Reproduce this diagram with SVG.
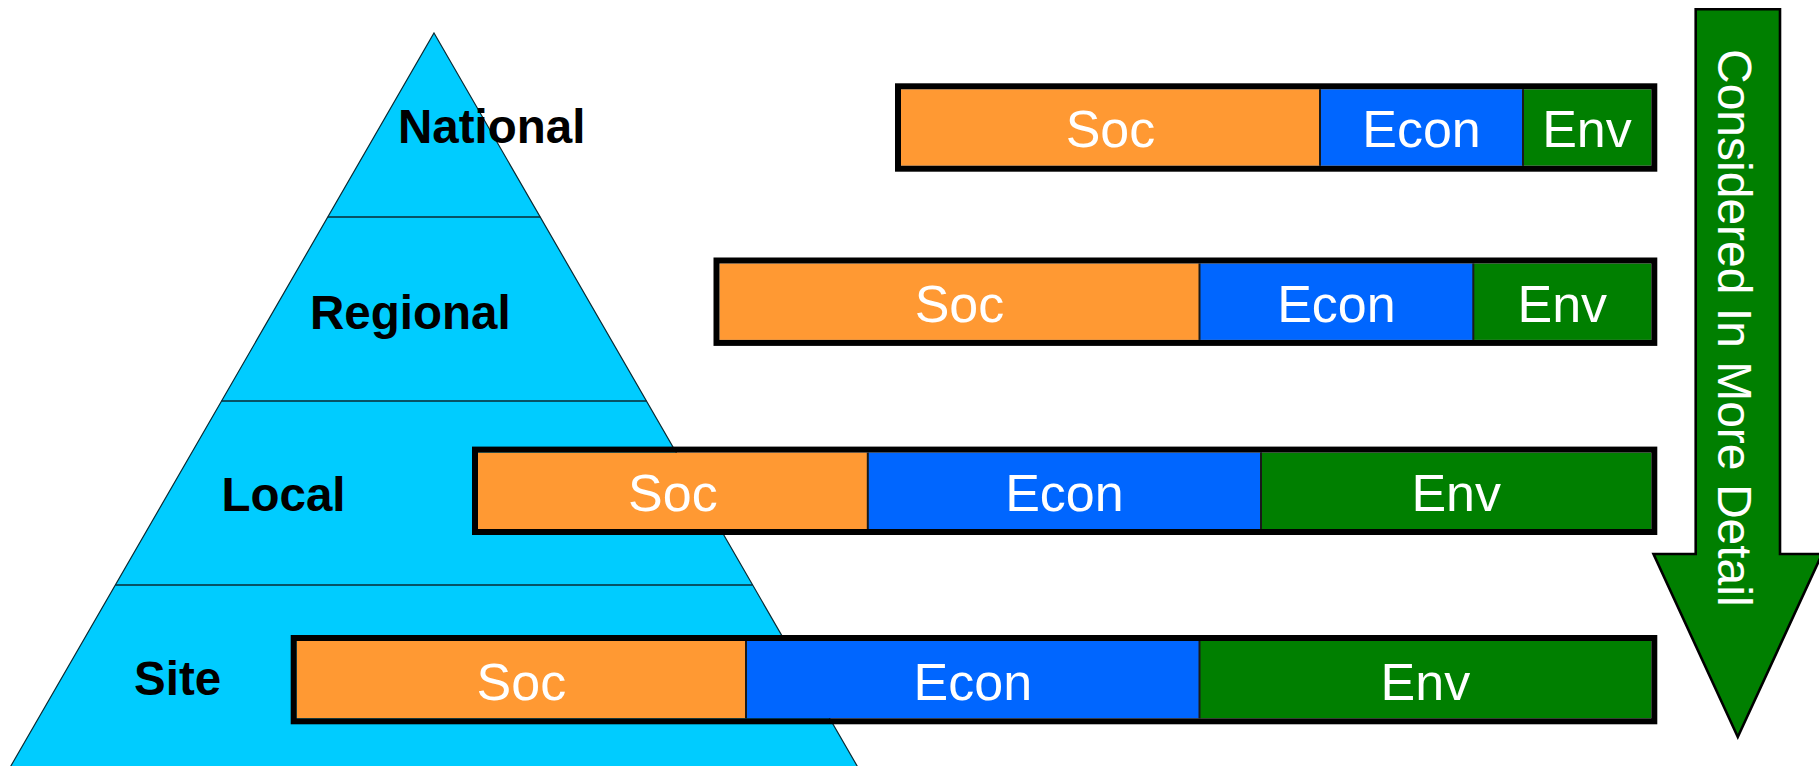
<svg xmlns="http://www.w3.org/2000/svg" width="1819" height="766" viewBox="0 0 1819 766">
<style>
.lvl{font-family:"Liberation Sans",Arial,sans-serif;font-weight:bold;font-size:47.5px;fill:#000}
.bt{font-family:"Liberation Sans",Arial,sans-serif;font-size:52px;fill:#fff;text-anchor:middle}
.soc{fill:#FF9933}
.econ{fill:#0066FF}
.env{fill:#007F00}
.div{stroke:#1a1a1a;stroke-width:2}
.frame{fill:none;stroke:#000;stroke-width:6}
.tier{stroke:#0a2a33;stroke-width:1.6}
</style>
<rect width="1819" height="766" fill="#fff"/>
<g id="pyramid">
<polygon points="434,33 871,790 -3,790" fill="#00CCFF" stroke="#0a2a33" stroke-width="1.2"/>
<line class="tier" x1="327.8" y1="217" x2="540.2" y2="217"/>
<line class="tier" x1="221.5" y1="401" x2="646.5" y2="401"/>
<line class="tier" x1="115.3" y1="585" x2="752.7" y2="585"/>
<text class="lvl" x="398" y="143.3">National</text>
<text class="lvl" x="310" y="329">Regional</text>
<text class="lvl" x="221.5" y="511">Local</text>
<text class="lvl" x="134" y="694.5">Site</text>
</g>
<g id="bar-national">
<rect class="soc" x="901" y="89.3" width="419" height="76.4"/>
<rect class="econ" x="1320" y="89.3" width="203" height="76.4"/>
<rect class="env" x="1523" y="89.3" width="128.3" height="76.4"/>
<line class="div" x1="1320" y1="89.3" x2="1320" y2="165.7"/>
<line class="div" x1="1523" y1="89.3" x2="1523" y2="165.7"/>
<rect class="frame" x="898" y="86.3" width="756.3" height="82.4"/>
<text class="bt" x="1110.5" y="147.3">Soc</text>
<text class="bt" x="1421.5" y="147.3">Econ</text>
<text class="bt" x="1587" y="147.3">Env</text>
</g>
<g id="bar-regional">
<rect class="soc" x="719.5" y="263.5" width="480" height="76.4"/>
<rect class="econ" x="1199.5" y="263.5" width="273.8" height="76.4"/>
<rect class="env" x="1473.3" y="263.5" width="178" height="76.4"/>
<line class="div" x1="1199.5" y1="263.5" x2="1199.5" y2="339.9"/>
<line class="div" x1="1473.3" y1="263.5" x2="1473.3" y2="339.9"/>
<rect class="frame" x="716.5" y="260.5" width="937.8" height="82.4"/>
<text class="bt" x="959.5" y="321.5">Soc</text>
<text class="bt" x="1336.4" y="321.5">Econ</text>
<text class="bt" x="1562.3" y="321.5">Env</text>
</g>
<g id="bar-local">
<rect class="soc" x="478" y="452.6" width="389.8" height="76.4"/>
<rect class="econ" x="867.8" y="452.6" width="393.2" height="76.4"/>
<rect class="env" x="1261" y="452.6" width="390.3" height="76.4"/>
<line class="div" x1="867.8" y1="452.6" x2="867.8" y2="529"/>
<line class="div" x1="1261" y1="452.6" x2="1261" y2="529"/>
<rect class="frame" x="475" y="449.6" width="1179.3" height="82.4"/>
<text class="bt" x="672.9" y="510.6">Soc</text>
<text class="bt" x="1064.4" y="510.6">Econ</text>
<text class="bt" x="1456.2" y="510.6">Env</text>
</g>
<g id="bar-site">
<rect class="soc" x="296.7" y="641" width="449.3" height="77.3"/>
<rect class="econ" x="746" y="641" width="453.5" height="77.3"/>
<rect class="env" x="1199.5" y="641" width="451.8" height="77.3"/>
<line class="div" x1="746" y1="641" x2="746" y2="718.3"/>
<line class="div" x1="1199.5" y1="641" x2="1199.5" y2="718.3"/>
<rect class="frame" x="293.7" y="638" width="1360.6" height="83.3"/>
<text class="bt" x="521.4" y="699.5">Soc</text>
<text class="bt" x="972.8" y="699.5">Econ</text>
<text class="bt" x="1425.4" y="699.5">Env</text>
</g>
<g id="connectors">
<g id="detail-arrow">
<polygon points="1695.7,9.3 1780,9.3 1780,554 1822,554 1737.8,737 1653.5,554 1695.7,554" fill="#007F00" stroke="#000" stroke-width="2.6" stroke-linejoin="miter"/>
<text transform="translate(1718,49) rotate(90)" font-family="Liberation Sans, Arial, sans-serif" font-size="48" fill="#fff">Considered In More Detail</text>
</g>
</g>
</svg>
